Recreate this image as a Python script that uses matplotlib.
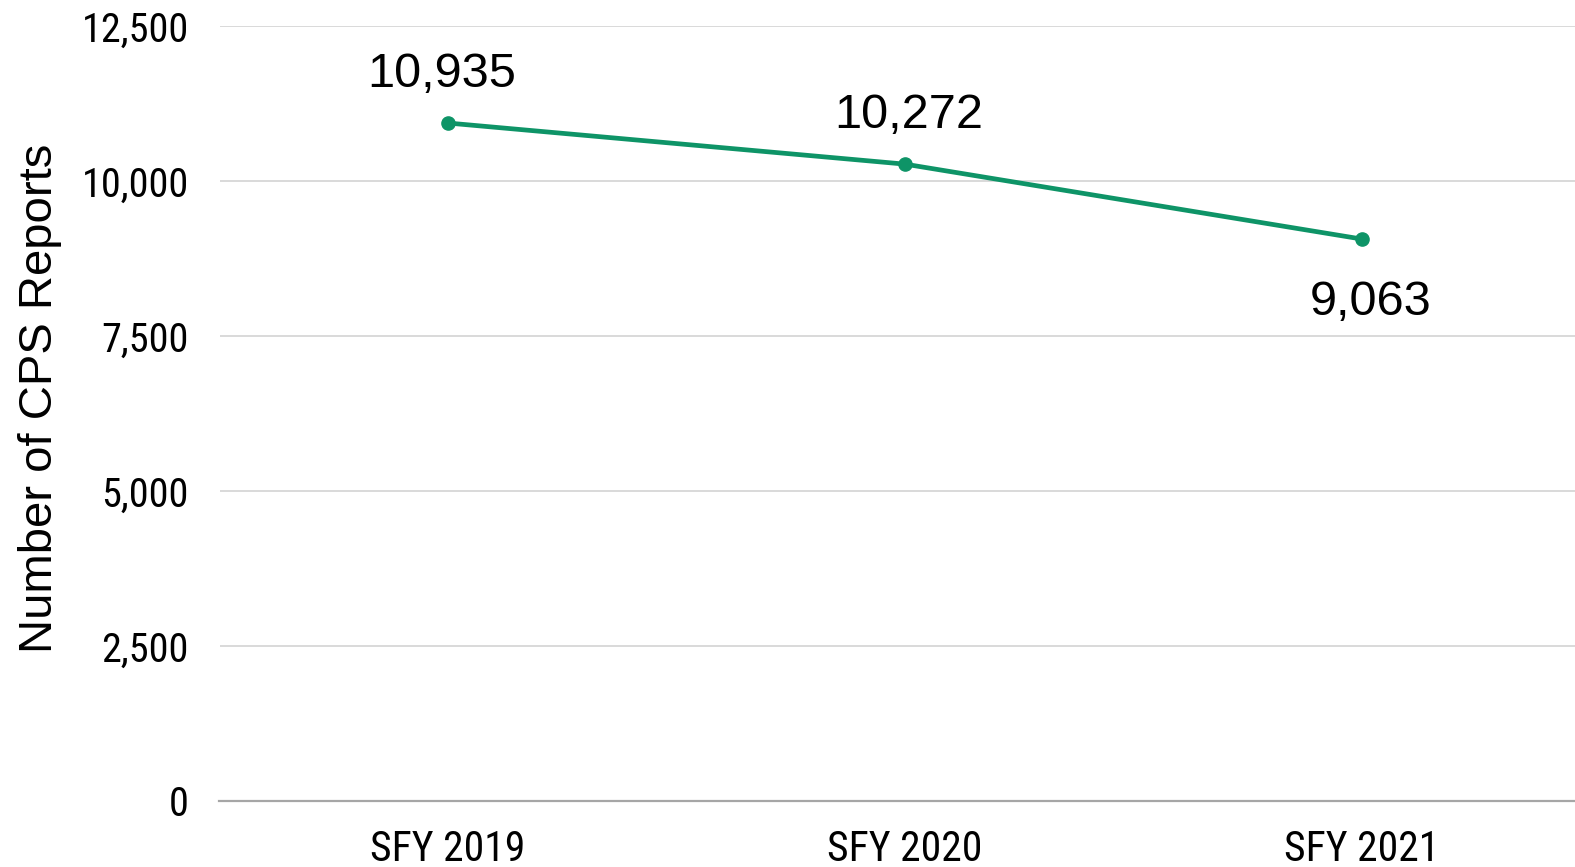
import matplotlib.pyplot as plt
from matplotlib import font_manager

years = ["SFY 2019", "SFY 2020", "SFY 2021"]
reports = [10935, 10272, 9063]
label_pos = ["above", "above", "below"]
yticks = [0, 2500, 5000, 7500, 10000, 12500]

names = {f.name for f in font_manager.fontManager.ttflist}
tick_font = next((n for n in ["Roboto Condensed", "Liberation Sans Narrow", "Roboto"] if n in names), "DejaVu Sans")
label_font = "Liberation Sans"

green = "#0e9467"

fig = plt.figure(figsize=(15.75, 8.67), dpi=100)
ax = fig.add_axes([219.5 / 1575, 66 / 867, 1371 / 1575, 775 / 867])

x = list(range(len(years)))
ax.plot(x, reports, color=green, linewidth=3.4, marker="o", markersize=9.5, zorder=3)

# small horizontal nudges so the labels sit as in the original
nudge = [-4.5, 3, 6]
for xi, v, pos, dx in zip(x, reports, label_pos, nudge):
    dy = 35 if pos == "above" else -46
    ax.annotate(f"{v:,}", (xi, v), textcoords="offset points", xytext=(dx, dy),
                ha="center", va="center", fontsize=35, family=label_font, color="black")

ax.set_xlim(-0.5, 2.5)
ax.set_ylim(0, 12500)
ax.set_yticks(yticks)
ax.set_yticklabels([f"{t:,}" for t in yticks], family=tick_font, fontsize=29)
ax.set_xticks(x)
ax.set_xticklabels(years, family=tick_font, fontsize=30)
ax.tick_params(axis="both", length=0)
ax.tick_params(axis="y", pad=22)
ax.tick_params(axis="x", pad=20)

ax.grid(axis="y", color="#d9d9d9", linewidth=1.4)
ax.set_axisbelow(True)
for s in ["top", "right", "left"]:
    ax.spines[s].set_visible(False)
ax.spines["bottom"].set_color("#a6a6a6")
ax.spines["bottom"].set_linewidth(1.6)

ax.set_ylabel("Number of CPS Reports", family=label_font, fontsize=34)
ax.yaxis.set_label_coords(-0.115, 0.52)

fig.savefig("out.png", dpi=100)
